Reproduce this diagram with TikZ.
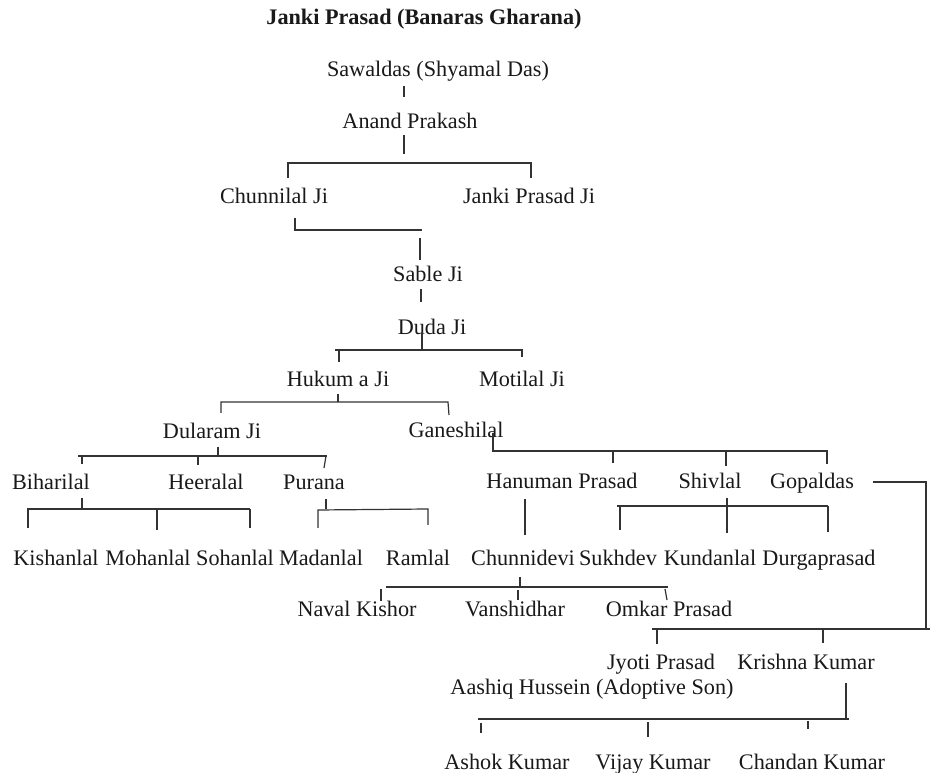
\documentclass[tikz,border=0pt]{standalone}
\usepackage{fontspec}
\setmainfont{Liberation Serif}
\begin{document}
\begin{tikzpicture}[x=0.75pt,y=-0.75pt,
  nm/.style={anchor=base,inner sep=0pt,font=\fontsize{16.65}{20}\selectfont,text=black!90},
  ttl/.style={nm,font=\fontsize{16.65}{20}\selectfont\bfseries},
  ln/.style={draw=black!80,line width=0.9pt}]
\useasboundingbox[fill=white] (0,0) rectangle (933,773);
% nodes
\node[ttl] (title) at (424,25) {Janki Prasad (Banaras Gharana)};
\node[nm] (sawal) at (438,77) {Sawaldas (Shyamal Das)};
\node[nm] (anand) at (410,129) {Anand Prakash};
\node[nm] (chunni) at (274,204) {Chunnilal Ji};
\node[nm] (janki) at (529,204) {Janki Prasad Ji};
\node[nm] (sable) at (428,282) {Sable Ji};
\node[nm] (duda) at (432,335) {Duda Ji};
\node[nm] (hukum) at (338,387) {Hukum a Ji};
\node[nm] (motilal) at (522,387) {Motilal Ji};
\node[nm] (dularam) at (212,439) {Dularam Ji};
\node[nm] (ganesh) at (456,438) {Ganeshilal};
\node[nm] (bihari) at (51,490) {Biharilal};
\node[nm] (heera) at (206,490) {Heeralal};
\node[nm] (purana) at (314,490) {Purana};
\node[nm] (hanuman) at (562,489) {Hanuman Prasad};
\node[nm] (shivlal) at (710,489) {Shivlal};
\node[nm] (gopal) at (812,489) {Gopaldas};
\node[nm] (kishan) at (56,566) {Kishanlal};
\node[nm] (mohan) at (148,566) {Mohanlal};
\node[nm] (sohan) at (235,566) {Sohanlal};
\node[nm] (madan) at (321,566) {Madanlal};
\node[nm] (ramlal) at (418,566) {Ramlal};
\node[nm] (chdevi) at (523,566) {Chunnidevi};
\node[nm] (sukh) at (618,566) {Sukhdev};
\node[nm] (kundan) at (710,566) {Kundanlal};
\node[nm] (durga) at (819,566) {Durgaprasad};
\node[nm] (naval) at (357,617) {Naval Kishor};
\node[nm] (vansh) at (515,617) {Vanshidhar};
\node[nm] (omkar) at (669,617) {Omkar Prasad};
\node[nm] (jyoti) at (661,670) {Jyoti Prasad};
\node[nm] (krishna) at (806,670) {Krishna Kumar};
\node[nm] (aashiq) at (592,695) {Aashiq Hussein (Adoptive Son)};
\node[nm] (ashok) at (507,769) {Ashok Kumar};
\node[nm] (vijay) at (653,769) {Vijay Kumar};
\node[nm] (chandan) at (812,769) {Chandan Kumar};
% connectors
\draw[ln] (404,86) -- (404,97);
\draw[ln] (404,135) -- (404,154);
\draw[ln] (288,178) -- (288,163) -- (531,163) -- (531,178);
\draw[ln] (295,218) -- (295,230) -- (422,230);
\draw[ln] (420,238) -- (420,260);
\draw[ln] (421,289) -- (421,302);
\draw[ln] (422,332) -- (422,350);
\draw[ln] (335,350) -- (523,350);
\draw[ln] (339,350) -- (339,362);
\draw[ln] (522,350) -- (522,357);
\draw[ln] (338,394) -- (338,402);
\draw[ln] (221,413) -- (221,402) -- (448,402) -- (449,415);
\draw[ln] (218,447) -- (218,456);
\draw[ln] (78,456) -- (327,456);
\draw[ln] (82,456) -- (82,464);
\draw[ln] (198,456) -- (198,465);
\draw[ln] (326,456) -- (324,468);
\draw[ln] (82,498) -- (82,509);
\draw[ln] (27,509) -- (250,509);
\draw[ln] (28,509) -- (28,528);
\draw[ln] (157,509) -- (157,530);
\draw[ln] (250,509) -- (250,528);
\draw[ln] (326,499) -- (326,509);
\draw[ln] (318,528) -- (318,510) -- (428,509) -- (428,525);
\draw[ln] (493,433) -- (493,451) -- (828,451);
\draw[ln] (613,451) -- (613,463);
\draw[ln] (726,451) -- (726,466);
\draw[ln] (827,451) -- (827,464);
\draw[ln] (525,499) -- (525,535);
\draw[ln] (727,498) -- (727,506);
\draw[ln] (617,506) -- (828,506);
\draw[ln] (620,506) -- (620,530);
\draw[ln] (727,506) -- (727,533);
\draw[ln] (828,506) -- (828,532);
\draw[ln] (873,482) -- (926,482) -- (926,629);
\draw[ln] (930,629) -- (652,629);
\draw[ln] (657,629) -- (657,644);
\draw[ln] (823,629) -- (823,643);
\draw[ln] (520,577) -- (520,587);
\draw[ln] (386,587) -- (668,587);
\draw[ln] (381,589) -- (381,601);
\draw[ln] (518,590) -- (518,600);
\draw[ln] (665,589) -- (667,600);
\draw[ln] (846,683) -- (846,719);
\draw[ln] (478,719) -- (849,719);
\draw[ln] (481,723) -- (481,733);
\draw[ln] (648,722) -- (648,737);
\draw[ln] (808,721) -- (808,729);
\end{tikzpicture}
\end{document}
